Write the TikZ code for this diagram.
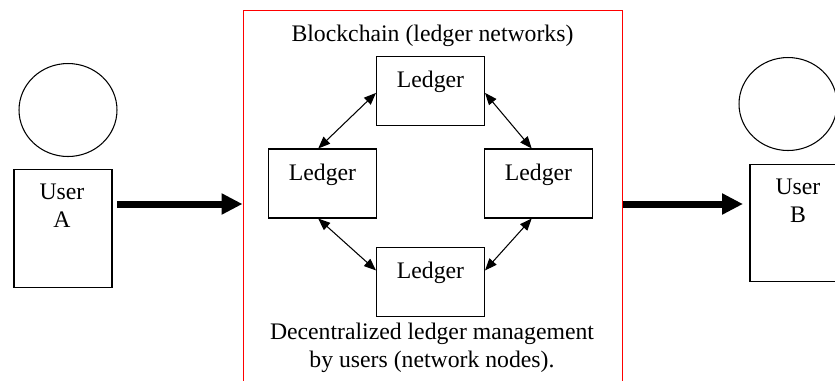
\documentclass[tikz,border=0pt]{standalone}
\usepackage{fontspec}
\setmainfont{Liberation Serif}
\usepackage{tikz}
\usetikzlibrary{shapes.geometric,arrows.meta}

\begin{document}
\begin{tikzpicture}[x=0.02cm,y=-0.02cm,font=\fontsize{13.5}{15.94}\selectfont,line width=0.6pt]
		\tikzstyle{ledger} = [rectangle,draw,minimum width=2.16cm,inner xsep=0pt,inner ysep=0pt,text height=0.62cm,text depth=0.76cm]
		\tikzstyle{user}   = [rectangle,draw,minimum width=1.96cm,minimum height=2.35cm]
		\tikzstyle{head}   = [ellipse,draw,minimum width=1.96cm,minimum height=1.86cm]
		\tikzstyle{link}   = [{Triangle[length=0.24cm,width=0.19cm]}-{Triangle[length=0.24cm,width=0.19cm]},line width=0.6pt]
		\tikzstyle{send}   = [-{Triangle[length=0.42cm,width=0.4cm]},line width=0.14cm]
		
		\clip (0,0) rectangle (835,380);
		
		\node[head] (headA) at (68,110)  {};
		\node[user] (userA) at (63,228.5){};
		\node[align=center,inner sep=0pt] (nameA) at (62,205.8) {User\\A};
		
		\node[draw=red,line width=0.6pt,minimum width=7.6cm,minimum height=7.76cm] (chain) at (433,204) {};
		\node[anchor=base] (chainTitle) at (432.5,41.7) {Blockchain (ledger networks)};
		\node[ledger] (ledgerT) at (430.5,91)   {Ledger};
		\node[ledger] (ledgerL) at (322.5,183.5){Ledger};
		\node[ledger] (ledgerR) at (538.5,183.5){Ledger};
		\node[ledger] (ledgerB) at (430.5,282)  {Ledger};
		\node[align=center,inner sep=0pt] (chainNote) at (432,347.5) {Decentralized ledger management\\by users (network nodes).};
		
		\node[head] (headB) at (788,104) {};
		\node[user] (userB) at (799,223) {};
		\node[align=center,inner sep=0pt] (nameB) at (798,201) {User\\B};
		
		\path (ledgerL.97)  edge[link] (ledgerT.182);
		\path (ledgerT.358) edge[link] (ledgerR.101);
		\path (ledgerR.259) edge[link] (ledgerB.12);
		\path (ledgerB.168) edge[link] (ledgerL.263);
		
		\coordinate (sendA) at (117,204);
		\coordinate (recvB) at (743,204);
		\path (sendA) edge[send] (chain.west);
		\path (chain.east) edge[send] (recvB);
	\end{tikzpicture}
\end{document}
